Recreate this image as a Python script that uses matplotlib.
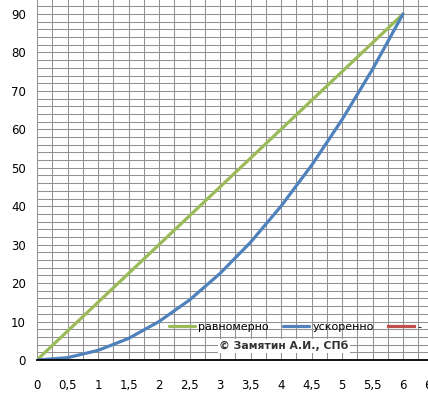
import matplotlib
matplotlib.use("Agg")
import matplotlib.pyplot as plt
from matplotlib.ticker import MultipleLocator, FuncFormatter

# Data
t = [0, 0.5, 1, 1.5, 2, 2.5, 3, 3.5, 4, 4.5, 5, 5.5, 6]
uniform = [0, 7.5, 15, 22.5, 30, 37.5, 45, 52.5, 60, 67.5, 75, 82.5, 90]
accel = [0, 0.6, 2.5, 5.6, 10, 15.6, 22.5, 30.6, 40, 50.6, 62.5, 75.6, 90]
labels = ["равномерно", "ускоренно", "-"]

W, H = 428, 403
fig = plt.figure(figsize=(W / 100, H / 100), dpi=100)
x0, x6 = 37, 403
px_per_unit = (x6 - x0) / 6
left = x0 / W
width = (6.5 * px_per_unit) / W
y0_px, y90_px = 360, 14
px_per_y = (y0_px - y90_px) / 90
ytop = y0_px / px_per_y
ax = fig.add_axes([left, (H - y0_px) / H, width, y0_px / H])

ax.plot(t, uniform, color="#9BBB59", lw=2.3, label=labels[0], solid_capstyle="round")
ax.plot(t, accel, color="#4F81BD", lw=2.3, label=labels[1], solid_capstyle="round")
ax.plot([], [], color="#C0504D", lw=2.3, label=labels[2])

ax.set_xlim(0, 6.5)
ax.set_ylim(0, ytop)
ax.xaxis.set_major_locator(MultipleLocator(0.5))
ax.xaxis.set_minor_locator(MultipleLocator(0.25))
ax.yaxis.set_major_locator(MultipleLocator(10))
ax.yaxis.set_minor_locator(MultipleLocator(2))
ax.xaxis.set_major_formatter(FuncFormatter(lambda v, p: ("%g" % v).replace(".", ",")))
ax.grid(which="both", color="#929292", lw=0.75)
ax.set_axisbelow(True)
for s in ["top", "right", "left"]:
    ax.spines[s].set_visible(False)
ax.spines["bottom"].set_color("black")
ax.spines["bottom"].set_linewidth(1.3)
ax.tick_params(which="both", length=0)
ax.tick_params(axis="x", pad=14, labelsize=8.5)
ax.tick_params(axis="y", pad=8, labelsize=8.5)

ax.legend(loc="center left", bbox_to_anchor=(180 / W - left, (y0_px - 327) / y0_px),
          bbox_transform=ax.transAxes, ncol=3, frameon=False, fontsize=8,
          handlelength=2.3, handletextpad=0.3, columnspacing=1.3, borderaxespad=0,
          borderpad=0)

fig.text(284 / W, (H - 346) / H, "© Замятин А.И., СПб", fontsize=7.8, fontweight="bold",
         color="#333333", ha="center", va="center",
         bbox=dict(facecolor="white", edgecolor="none", pad=1))

fig.savefig("out.png", dpi=100)
